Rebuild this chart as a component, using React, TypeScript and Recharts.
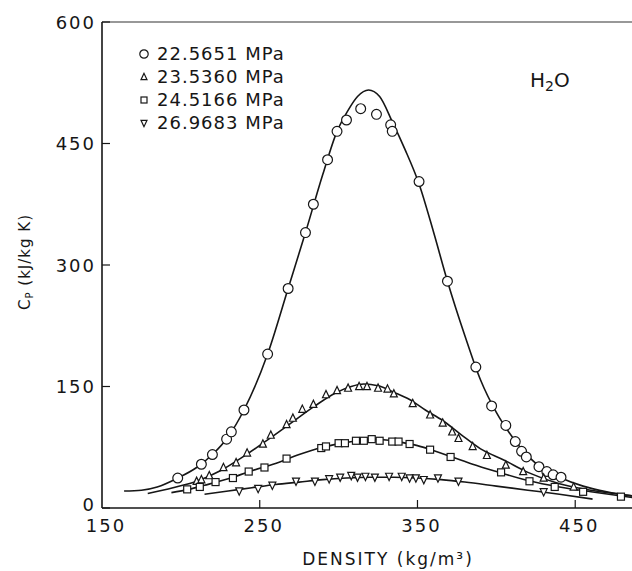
import React from "react";
import { ComposedChart, Line, Scatter, XAxis, YAxis, ReferenceLine } from "recharts";

const pressures = ["22.5651 MPa", "23.5360 MPa", "24.5166 MPa", "26.9683 MPa"];

const circleDensity = [198, 213, 220, 229, 232, 240, 255, 268, 279, 284, 293, 299, 305, 314, 324, 333, 334, 351, 369, 387, 397, 406, 412, 416, 419, 427, 432, 436, 441];
const circleCp = [37, 54, 66, 85, 94, 121, 190, 271, 340, 375, 430, 465, 479, 493, 486, 473, 465, 403, 280, 174, 126, 102, 82, 70, 63, 51, 45, 41, 38];

const triDensity = [210, 213, 218, 227, 235, 242, 252, 257, 267, 271, 277, 284, 292, 299, 306, 313, 318, 325, 331, 335, 347, 358, 366, 372, 376, 385, 394, 406, 417, 430, 449];
const triCp = [33, 35, 40, 50, 56, 68, 79, 90, 103, 111, 122, 128, 140, 145, 148, 150, 150, 148, 147, 141, 129, 115, 105, 94, 86, 76, 65, 53, 45, 37, 26];

const sqDensity = [204, 212, 222, 233, 243, 253, 267, 289, 292, 300, 304, 311, 316, 321, 326, 334, 338, 345, 358, 371, 403, 421, 437, 455, 479];
const sqCp = [23, 26, 32, 37, 45, 50, 61, 74, 76, 80, 80, 83, 83, 85, 83, 82, 82, 79, 72, 63, 44, 33, 26, 20, 14];

const downDensity = [237, 249, 258, 273, 285, 294, 301, 308, 312, 317, 323, 332, 340, 345, 349, 354, 363, 376, 430];
const downCp = [21, 24, 28, 33, 33, 36, 38, 40, 38, 39, 38, 39, 39, 37, 37, 35, 37, 33, 20];

// fitted curves
const circleFitDensity = [164, 175, 185, 198, 210, 220, 230, 240, 255, 268, 279, 290, 299, 306, 312, 319, 326, 334, 342, 351, 360, 369, 380, 390, 400, 410, 420, 430, 440, 455, 470, 486];
const circleFitCp = [21, 22, 26, 37, 50, 66, 88, 121, 190, 271, 340, 412, 465, 491, 508, 516, 508, 477, 443, 400, 342, 280, 213, 158, 118, 88, 64, 48, 38, 27, 20, 15];

const triFitDensity = [179, 195, 210, 225, 240, 255, 270, 285, 298, 308, 316, 325, 335, 345, 355, 366, 378, 390, 405, 420, 440, 460, 486];
const triFitCp = [18, 25, 33, 46, 64, 84, 105, 126, 142, 150, 153, 151, 143, 134, 121, 108, 90, 73, 59, 44, 30, 22, 15];

const sqFitDensity = [194, 205, 215, 230, 245, 260, 275, 290, 305, 315, 322, 330, 340, 350, 360, 372, 385, 400, 420, 440, 460, 486];
const sqFitCp = [19, 23, 28, 36, 46, 55, 66, 75, 81, 84, 85, 84, 81, 77, 71, 63, 54, 45, 34, 26, 20, 13];

const downFitDensity = [215, 230, 245, 260, 275, 290, 305, 320, 335, 350, 365, 380, 400, 420, 440, 461];
const downFitCp = [17, 21, 25, 29, 32, 35, 37, 38, 38, 37, 35, 32, 27, 22, 17, 11];

const xTicks = [150, 250, 350, 450];
const yTicks = [0, 150, 300, 450, 600];

const zip = (xs: number[], ys: number[]) => xs.map((d, i) => ({ d, cp: ys[i] }));

const INK = "#161616";
const FONT = "'DejaVu Sans', sans-serif";

type Kind = "circle" | "tri" | "sq" | "down";

function marker(kind: Kind, cx: number, cy: number, s: number) {
  const common = { fill: "#fff", stroke: INK, strokeWidth: 1.2 };
  if (kind === "circle") return <circle cx={cx} cy={cy} r={s * 0.7} {...common} />;
  if (kind === "sq") return <rect x={cx - s / 2} y={cy - s / 2} width={s} height={s} {...common} />;
  const h = s * 0.9;
  if (kind === "tri")
    return <polygon points={`${cx},${cy - h / 2 - 1} ${cx - s / 2},${cy + h / 2} ${cx + s / 2},${cy + h / 2}`} {...common} />;
  return <polygon points={`${cx},${cy + h / 2 + 1} ${cx - s / 2},${cy - h / 2} ${cx + s / 2},${cy - h / 2}`} {...common} />;
}

const shapeFor = (kind: Kind, s: number) => (p: any) => marker(kind, p.cx, p.cy, s);

const YTick = (p: any) => (
  <g>
    <line x1={p.x} x2={p.x + 8} y1={p.y} y2={p.y} stroke={INK} strokeWidth={1.2} />
    <text
      x={p.x - 6}
      y={p.payload.value === 0 ? p.y - 4 : p.y}
      textAnchor="end"
      dominantBaseline="central"
      fontFamily={FONT}
      fontSize={18}
      letterSpacing={2}
      fill={INK}
    >
      {p.payload.value}
    </text>
  </g>
);

const XTick = (p: any) => (
  <g>
    {p.payload.value !== 150 && <line x1={p.x} x2={p.x} y1={p.y} y2={p.y - 8} stroke={INK} strokeWidth={1.2} />}
    <text x={p.x + 4} y={p.y + 24} textAnchor="middle" fontFamily={FONT} fontSize={18} letterSpacing={2} fill={INK}>
      {p.payload.value}
    </text>
  </g>
);

const kinds: Kind[] = ["circle", "tri", "sq", "down"];

export default function App() {
  return (
    <div style={{ position: "absolute", left: 0, top: 0, width: 632, height: 571, background: "#fff", overflow: "hidden" }}>
      <ComposedChart width={632} height={571} margin={{ top: 22, right: 0, bottom: 0, left: 40 }}>
        <XAxis
          type="number"
          dataKey="d"
          domain={[150, 486]}
          ticks={xTicks}
          allowDataOverflow
          height={63}
          tickSize={0}
          tickMargin={0}
          tick={<XTick />}
          axisLine={{ stroke: INK, strokeWidth: 1.6 }}
          label={{
            content: (props: any) => {
              const vb = props.viewBox;
              return (
                <text x={vb.x + vb.width / 2 + 21} y={vb.y + 57} textAnchor="middle" fontFamily={FONT} fontSize={17} letterSpacing={2} fill={INK}>
                  DENSITY (kg/m³)
                </text>
              );
            },
          }}
        />
        <YAxis
          type="number"
          domain={[0, 600]}
          ticks={yTicks}
          width={62}
          tickSize={0}
          tickMargin={0}
          tick={<YTick />}
          axisLine={{ stroke: INK, strokeWidth: 1.6 }}
          label={{
            content: () => (
              <text transform="translate(30,262) rotate(-90)" textAnchor="middle" fontFamily={FONT} fontSize={15} letterSpacing={1} fill={INK}>
                C<tspan fontSize={10} dy={3}>P</tspan>
                <tspan dy={-3}>  (kJ/kg K)</tspan>
              </text>
            ),
          }}
        />
        <ReferenceLine y={600} stroke="#333" strokeWidth={1.2} />

        <Line data={zip(circleFitDensity, circleFitCp)} dataKey="cp" type="monotone" dot={false} stroke={INK} strokeWidth={1.6} isAnimationActive={false} />
        <Line data={zip(triFitDensity, triFitCp)} dataKey="cp" type="monotone" dot={false} stroke={INK} strokeWidth={1.6} isAnimationActive={false} />
        <Line data={zip(sqFitDensity, sqFitCp)} dataKey="cp" type="monotone" dot={false} stroke={INK} strokeWidth={1.6} isAnimationActive={false} />
        <Line data={zip(downFitDensity, downFitCp)} dataKey="cp" type="monotone" dot={false} stroke={INK} strokeWidth={1.6} isAnimationActive={false} />

        <Scatter data={zip(circleDensity, circleCp)} dataKey="cp" shape={shapeFor("circle", 7)} isAnimationActive={false} />
        <Scatter data={zip(triDensity, triCp)} dataKey="cp" shape={shapeFor("tri", 7)} isAnimationActive={false} />
        <Scatter data={zip(sqDensity, sqCp)} dataKey="cp" shape={shapeFor("sq", 7)} isAnimationActive={false} />
        <Scatter data={zip(downDensity, downCp)} dataKey="cp" shape={shapeFor("down", 7)} isAnimationActive={false} />
      </ComposedChart>

      <div style={{ position: "absolute", left: 138, top: 42, fontFamily: FONT, fontSize: 18, letterSpacing: 1, color: INK }}>
        {pressures.map((p, i) => (
          <div key={p} style={{ height: 23, display: "flex", alignItems: "center" }}>
            <svg width={12} height={12} style={{ marginRight: 7 }}>
              {marker(kinds[i], 6, 6, 6)}
            </svg>
            <span>{p}</span>
          </div>
        ))}
      </div>

      <div style={{ position: "absolute", left: 530, top: 68, fontFamily: FONT, fontSize: 20, color: INK }}>
        H<sub style={{ fontSize: 14, verticalAlign: -4 }}>2</sub>O
      </div>
    </div>
  );
}
